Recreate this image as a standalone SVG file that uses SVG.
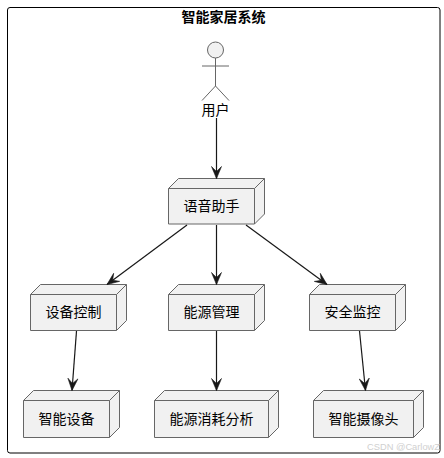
<svg xmlns="http://www.w3.org/2000/svg" width="444" height="458" viewBox="0 0 444 458">
<style>
text{font-family:"Noto Sans CJK SC","Liberation Sans",sans-serif;font-size:14px;fill:#000;text-anchor:middle}
.t{font-weight:700}
.f{fill:#f1f1f1;stroke:#666;stroke-width:1}
.n{fill:none;stroke:#666;stroke-width:1}
.c{stroke:#181818;stroke-width:1.2;fill:none}
.a{fill:#181818;stroke:#181818;stroke-width:.6}
.w{font-family:"Liberation Sans",sans-serif;font-size:9.300px;fill:#d0d0d0;text-anchor:end}
</style>
<defs>
<marker id="ah" markerUnits="userSpaceOnUse" viewBox="0 0 14 12" refX="13" refY="6" markerWidth="14" markerHeight="12" orient="auto"><path class="a" d="M13 6L1 1L6 6L1 11Z"/></marker>
</defs>
<rect width="444" height="458" fill="#fff"/>
<rect x="7.500" y="7.500" width="432.500" height="445.500" rx="2.500" fill="none" stroke="#000" stroke-width="1"/>
<text class="t" x="223.500" y="22">智能家居系统</text>
<g id="actor-user">
<circle class="f" cx="215.500" cy="50" r="8"/>
<path class="n" d="M215.500 58V86M202 66H229M215.500 86L202 100.500M215.500 86L229 100.500"/>
<text x="215.500" y="115">用户</text>
</g>
<g id="node-voice">
<path class="f" d="M168.500 188.500L178.500 178.500H264.500V214L254.500 224H168.500Z"/>
<path class="n" d="M168.500 188.500H254.500V224M254.500 188.500L264.500 178.500"/>
<text x="211.500" y="211">语音助手</text>
</g>
<g id="node-device-control">
<path class="f" d="M30.500 294.500L40.500 284.500H126.500V320.500L116.500 330.500H30.500Z"/>
<path class="n" d="M30.500 294.500H116.500V330.500M116.500 294.500L126.500 284.500"/>
<text x="73.500" y="317">设备控制</text>
</g>
<g id="node-energy">
<path class="f" d="M168.500 294.500L178.500 284.500H264.500V320.500L254.500 330.500H168.500Z"/>
<path class="n" d="M168.500 294.500H254.500V330.500M254.500 294.500L264.500 284.500"/>
<text x="211.500" y="317">能源管理</text>
</g>
<g id="node-security">
<path class="f" d="M309.500 294.500L319.500 284.500H405.500V320.500L395.500 330.500H309.500Z"/>
<path class="n" d="M309.500 294.500H395.500V330.500M395.500 294.500L405.500 284.500"/>
<text x="352.500" y="317">安全监控</text>
</g>
<g id="node-smart-device">
<path class="f" d="M23.500 400.500L33.500 390.500H119.500V427.500L109.500 437.500H23.500Z"/>
<path class="n" d="M23.500 400.500H109.500V437.500M109.500 400.500L119.500 390.500"/>
<text x="66.500" y="424">智能设备</text>
</g>
<g id="node-energy-analysis">
<path class="f" d="M154.500 400.500L164.500 390.500H278.500V427.500L268.500 437.500H154.500Z"/>
<path class="n" d="M154.500 400.500H268.500V437.500M268.500 400.500L278.500 390.500"/>
<text x="211.500" y="424">能源消耗分析</text>
</g>
<g id="node-camera">
<path class="f" d="M313.500 400.500L323.500 390.500H423.500V427.500L413.500 437.500H313.500Z"/>
<path class="n" d="M313.500 400.500H413.500V437.500M413.500 400.500L423.500 390.500"/>
<text x="363.500" y="424">智能摄像头</text>
</g>
<g id="connectors">
<path class="c" marker-end="url(#ah)" d="M216.500 118V178.500"/>
<path class="c" marker-end="url(#ah)" d="M187 225L107 284.500"/>
<path class="c" marker-end="url(#ah)" d="M216.500 225V284.500"/>
<path class="c" marker-end="url(#ah)" d="M246 225L327 284.500"/>
<path class="c" marker-end="url(#ah)" d="M76.500 331L72 390.500"/>
<path class="c" marker-end="url(#ah)" d="M216.500 331V390.500"/>
<path class="c" marker-end="url(#ah)" d="M359.500 331L365.500 390.500"/>
</g>
<text class="w" x="440" y="450">CSDN @CarlowZ</text>
</svg>
